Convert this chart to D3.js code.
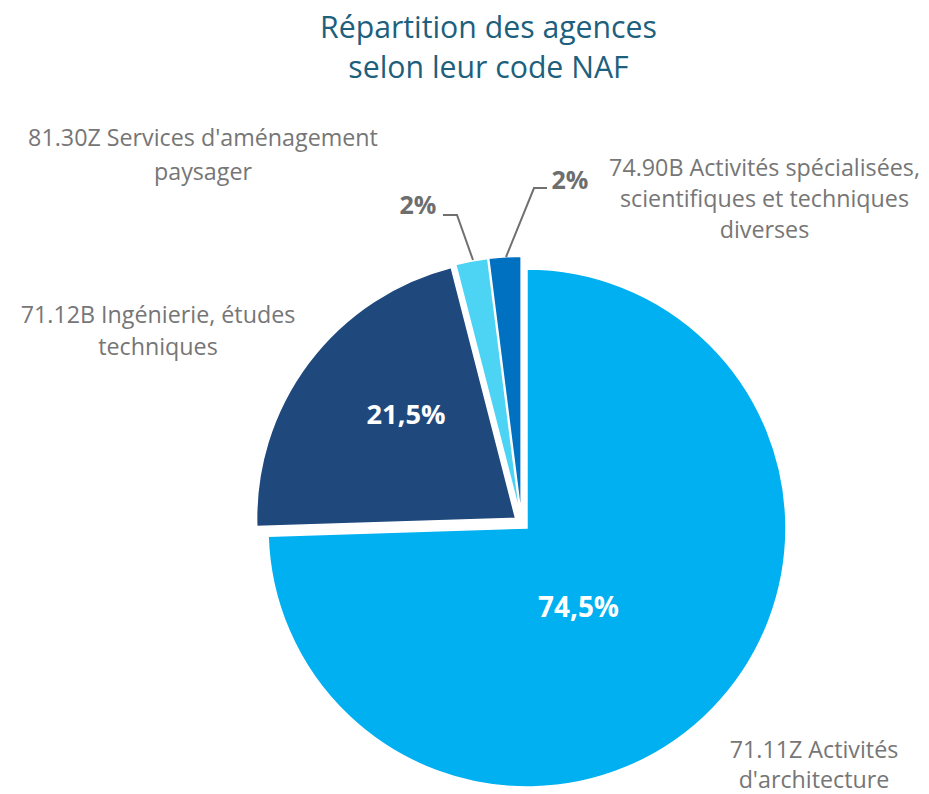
<!DOCTYPE html>
<html><head><meta charset="utf-8">
<script src="https://cdn.jsdelivr.net/npm/d3@7"></script>
<style>body{margin:0;background:#fff}svg{display:block}text{font-family:"Open Sans",Lato,sans-serif}</style>
</head><body>
<svg id="c" width="929" height="794"></svg>
<script>
const categories = ["71.11Z Activités d'architecture","71.12B Ingénierie, études techniques","81.30Z Services d'aménagement paysager","74.90B Activités spécialisées, scientifiques et techniques diverses"];
const values = [74.5, 21.5, 2, 2];
const valueLabels = ["74,5%","21,5%","2%","2%"];
const colors = ["#00B0F0","#1F497D","#4DD3F4","#0070C0"];

const svg = d3.select("#c");
const cx = 521.6, cy = 522.8, R = 259, explode = 7.5;

// fit a text's font size so that its width matches a target width
function fit(sel, target){
  const w = sel.node().getComputedTextLength();
  const fs = parseFloat(sel.attr("font-size"));
  sel.attr("font-size", (fs*target/w).toFixed(2));
}

const t1 = svg.append("text").attr("x",488.5).attr("y",38).attr("text-anchor","middle")
  .attr("fill","#1D5F7C").attr("font-size",30).text("Répartition des agences");
fit(t1,337);
svg.append("text").attr("x",488.5).attr("y",78).attr("text-anchor","middle")
  .attr("fill","#1D5F7C").attr("font-size",t1.attr("font-size")).text("selon leur code NAF");

const pie = d3.pie().sort(null).value(d=>d)(values);
const arc = d3.arc().innerRadius(0).outerRadius(R);
const g = svg.append("g").attr("transform",`translate(${cx},${cy})`);
g.selectAll("path").data(pie).join("path")
  .attr("d",arc).attr("fill",(d,i)=>colors[i])
  .attr("stroke","#fff").attr("stroke-width",1.5)
  .attr("transform",d=>{const a=(d.startAngle+d.endAngle)/2;return `translate(${explode*Math.sin(a)},${-explode*Math.cos(a)})`;});

// value labels (baselines)
const valPos = [[578.5,617],[406,424],[418,214],[570,189]];
const valFill = ["#fff","#fff","#6E6E6E","#6E6E6E"];
const valWidth = [81,79,37,37];
valueLabels.forEach((t,i)=>{
  const s = svg.append("text").attr("x",valPos[i][0]).attr("y",valPos[i][1])
   .attr("text-anchor","middle").attr("font-weight","bold")
   .attr("fill",valFill[i]).attr("font-size",26).text(t);
  fit(s,valWidth[i]);
});

// leader lines
const lines = [[[443,215],[457,215],[473,260]],[[506,257],[534,188],[547,188]]];
lines.forEach(p=>svg.append("path").attr("d",d3.line()(p)).attr("fill","none").attr("stroke","#707070").attr("stroke-width",2));

// category labels
const catLines = [["71.11Z Activités","d'architecture"],["71.12B Ingénierie, études","techniques"],["81.30Z Services d'aménagement","paysager"],["74.90B Activités spécialisées,","scientifiques et techniques","diverses"]];
const catPos = [[814,757.5],[158,323],[203,145.5],[764.5,176]];
const catGap = [30.5,32,34,31];
const catFontRef = svg.append("text").attr("font-size",22).text("81.30Z Services d'aménagement");
fit(catFontRef,350);
const catFS = catFontRef.attr("font-size");
catFontRef.remove();
catLines.forEach((ls,i)=>{
  ls.forEach((l,j)=>{
    svg.append("text").attr("x",catPos[i][0]).attr("y",catPos[i][1]+j*catGap[i])
      .attr("text-anchor","middle").attr("fill","#767676").attr("font-size",catFS).text(l);
  });
});
</script>
</body></html>
